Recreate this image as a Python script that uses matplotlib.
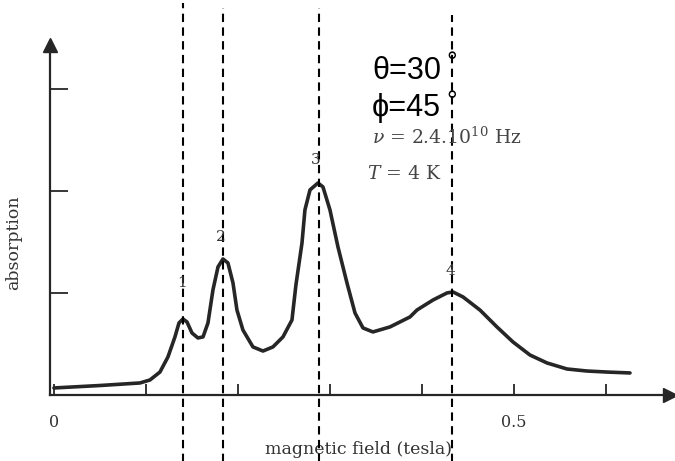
import matplotlib
matplotlib.use("Agg")
import matplotlib.pyplot as plt

# ---- data ----
field = [0.0, 0.050, 0.0935, 0.1043, 0.1152, 0.1239, 0.1315, 0.1359, 0.1402, 0.1446,
         0.1500, 0.1565, 0.1620, 0.1674, 0.1728, 0.1783, 0.1837, 0.1891, 0.1946, 0.1989,
         0.2054, 0.2163, 0.2272, 0.2380, 0.2489, 0.2587, 0.2630, 0.2696, 0.2728, 0.2783,
         0.2870, 0.2924, 0.3000, 0.3087, 0.3185, 0.3272, 0.3359, 0.3467, 0.3652, 0.3870,
         0.3946, 0.4120, 0.4272, 0.4337, 0.4446, 0.4630, 0.4815, 0.4989, 0.5174, 0.5359,
         0.5576, 0.5793, 0.6011, 0.6261]
absorption = [0.069, 0.093, 0.118, 0.147, 0.225, 0.373, 0.569, 0.706, 0.745, 0.716,
              0.608, 0.559, 0.569, 0.706, 1.029, 1.255, 1.333, 1.294, 1.098, 0.833,
              0.637, 0.471, 0.431, 0.471, 0.569, 0.735, 1.078, 1.490, 1.814, 2.010,
              2.078, 2.039, 1.814, 1.451, 1.098, 0.804, 0.657, 0.618, 0.667, 0.765,
              0.833, 0.931, 1.000, 1.010, 0.961, 0.833, 0.667, 0.520, 0.392, 0.314,
              0.255, 0.235, 0.225, 0.216]
peak_labels = ["1", "2", "3", "4"]
peak_x = [0.139, 0.181, 0.285, 0.431]
peak_y = [1.10, 1.55, 2.30, 1.22]
dashed_x = [0.1402, 0.1837, 0.288, 0.4326]
dashed_top = [1.12, 1.105, 1.105, 1.085]
xtick_pos = [0.0, 0.1, 0.2, 0.3, 0.4, 0.5, 0.6]
xtick_lab = ["0", "", "", "", "", "0.5", ""]
ytick_pos = [1, 2, 3]

plt.rcParams["mathtext.fontset"] = "dejavuserif"

fig = plt.figure(figsize=(6.75, 4.61), dpi=100)
ax = fig.add_axes([50/675, 66/461, 620/675, 350/461])
ax.set_xlim(-0.0043, 0.6696)
ax.set_ylim(0, 3.43)

ink = "#262626"
ax.plot(field, absorption, color=ink, lw=2.6, solid_capstyle="round", solid_joinstyle="round")

for s in ["top", "right"]:
    ax.spines[s].set_visible(False)
for s in ["left", "bottom"]:
    ax.spines[s].set_linewidth(1.6)
    ax.spines[s].set_color(ink)

ax.plot([1], [0], marker=">", ms=10, color=ink, transform=ax.transAxes, clip_on=False)
ax.plot([0], [1], marker="^", ms=10, color=ink, transform=ax.transAxes, clip_on=False)

ax.set_xticks(xtick_pos)
ax.set_xticklabels(xtick_lab, family="DejaVu Serif", fontsize=11.5, color="#333333")
ax.set_yticks(ytick_pos)
ax.set_yticklabels([])
ax.tick_params(axis="x", direction="in", length=8, width=1.3, color=ink, pad=14)
ax.tick_params(axis="y", direction="in", length=13, width=1.3, color=ink)

ax.set_xlabel("magnetic field (tesla)", family="DejaVu Serif", fontsize=12.5, color="#333333")
ax.xaxis.set_label_coords(0.497, -0.13)
ax.set_ylabel("absorption", family="DejaVu Serif", fontsize=12.5, color="#333333")
ax.yaxis.set_label_coords(-0.045, 0.434)

for lab, px, py in zip(peak_labels, peak_x, peak_y):
    ax.text(px, py, lab, family="DejaVu Serif", fontsize=11, color="#333333",
            ha="center", va="center")

trans = ax.get_xaxis_transform()
for xv, top in zip(dashed_x, dashed_top):
    ax.plot([xv, xv], [-0.19, top], color="black", lw=1.5, ls=(0, (4, 2.6)),
            transform=trans, clip_on=False)

ax.text(0.3457, 3.18, "θ=30", family="Liberation Sans", fontsize=22, ha="left", va="center")
ax.text(0.3457, 2.81, "ϕ=45", family="Liberation Sans", fontsize=22, ha="left", va="center")
ax.text(0.4326, 3.25, "°", family="Liberation Sans", fontsize=19, ha="center", va="center")
ax.text(0.4326, 2.87, "°", family="Liberation Sans", fontsize=19, ha="center", va="center")

ax.text(0.3457, 2.53, r"$\nu$ = 2.4.10$^{10}$ Hz", family="DejaVu Serif", fontsize=13.5,
        color="#444444", ha="left", va="center")
ax.text(0.340, 2.17, r"$T$ = 4 K", family="DejaVu Serif", fontsize=13.5,
        color="#444444", ha="left", va="center")

fig.savefig("out.png", dpi=100)
